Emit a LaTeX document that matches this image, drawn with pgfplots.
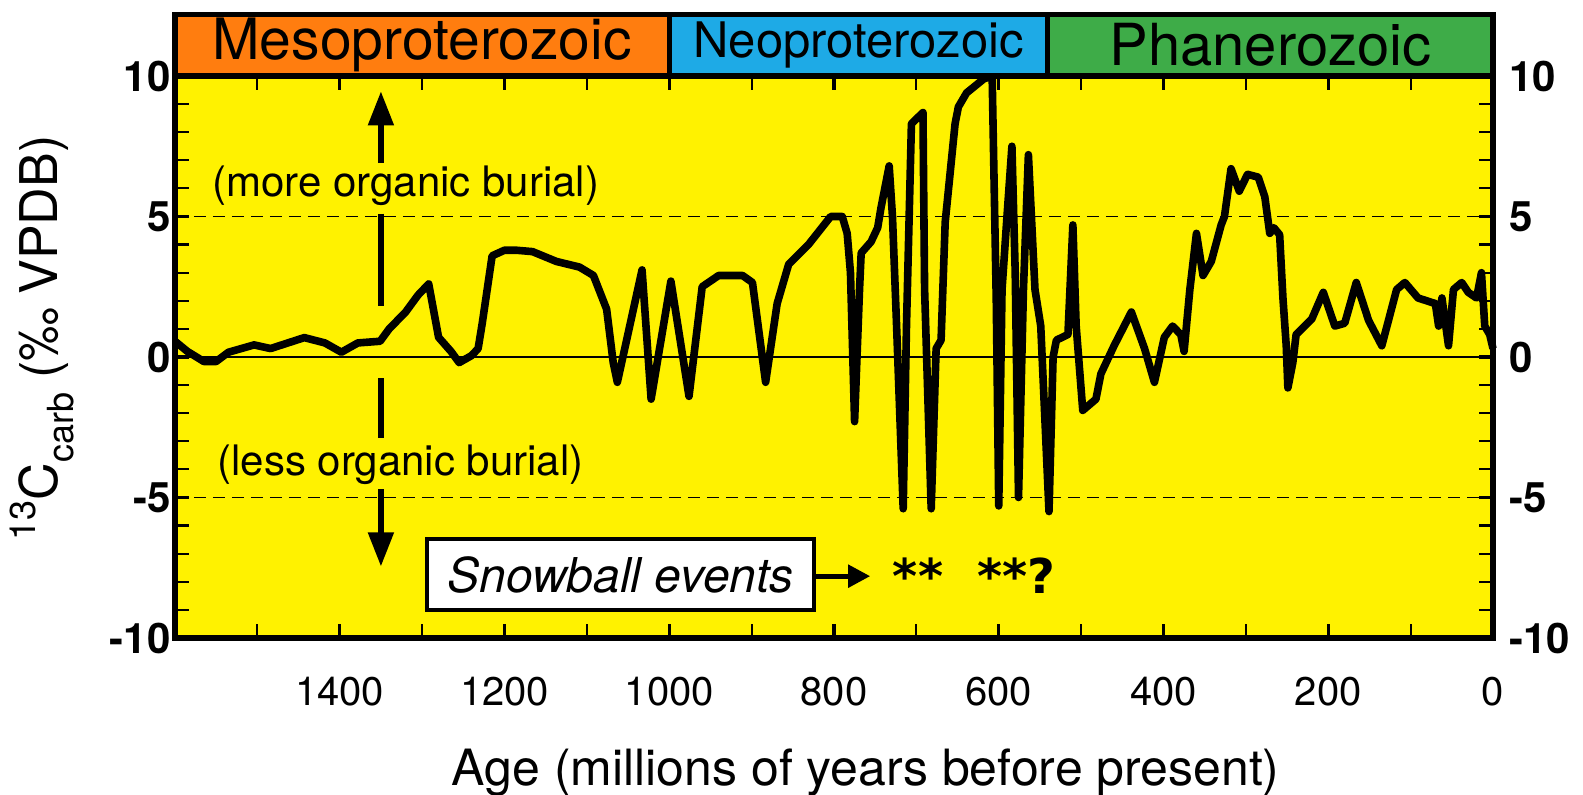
\documentclass[border=0pt]{standalone}
\usepackage{pgfplots}
\pgfplotsset{compat=1.18}
\usetikzlibrary{arrows.meta}
\usepackage{fontspec}
\setmainfont{TeX Gyre Heros}
\newfontfamily\djv{DejaVu Sans}
\definecolor{ayellow}{RGB}{255,242,0}
\definecolor{aorange}{RGB}{255,125,15}
\definecolor{ablue}{RGB}{30,170,230}
\definecolor{agreen}{RGB}{62,172,72}
\pgfplotsset{/pgf/number format/assume math mode=true,
  /pgf/number format/set thousands separator={}}
\begin{document}
\begin{tikzpicture}
\begin{axis}[
  scale only axis, width=659pt, height=281pt,
  x dir=reverse, xmin=0, xmax=1600, ymin=-10, ymax=10,
  axis background/.style={fill=ayellow},
  axis line style={line width=2.6pt},
  xtick={0,200,...,1400}, minor xtick={100,300,...,1500},
  ytick={-10,-5,0,5,10},
  minor ytick={-9,-8,-7,-6,-4,-3,-2,-1,1,2,3,4,6,7,8,9},
  tick align=inside, tick pos=both, xticklabel pos=lower, yticklabel pos=left,
  major tick length=7pt, minor tick length=7pt,
  major tick style={black, line width=1.6pt},
  minor tick style={black, line width=1.1pt},
  xticklabel style={font=\fontsize{20}{22}\selectfont, yshift=-16pt},
  yticklabel style={font=\fontsize{21}{23}\selectfont\bfseries, inner xsep=2pt},
  clip=false,
]
% reference lines
\draw[line width=0.8pt, dash pattern=on 6pt off 3.5pt] (axis cs:1600,5) -- (axis cs:0,5);
\draw[line width=0.8pt, dash pattern=on 6pt off 3.5pt] (axis cs:1600,-5) -- (axis cs:0,-5);
\draw[line width=0.8pt] (axis cs:1600,0) -- (axis cs:14,0);
% arrows and annotations
\draw[line width=2.6pt, -{Triangle[width=12.5pt,length=17pt]}] (axis cs:1350,6.9) -- (axis cs:1350,9.45);
\draw[line width=2.6pt] (axis cs:1350,5.1) -- (axis cs:1350,1.8);
\draw[line width=2.6pt] (axis cs:1350,-0.75) -- (axis cs:1350,-2.9);
\draw[line width=2.6pt, -{Triangle[width=12.5pt,length=17pt]}] (axis cs:1350,-4.7) -- (axis cs:1350,-7.45);
\node[anchor=west, inner sep=0pt, font=\fontsize{21}{23}\selectfont] at (axis cs:1555,6.1) {(more organic burial)};
\node[anchor=west, inner sep=0pt, font=\fontsize{21}{23}\selectfont] at (axis cs:1549,-3.85) {(less organic burial)};
\draw[line width=2pt, fill=white] (axis cs:1294,-6.47) rectangle (axis cs:824,-9.0);
\node[font=\fontsize{24}{26}\selectfont\itshape] at (axis cs:1059,-7.75) {Snowball events};
\draw[line width=2.5pt, -{Triangle[width=11pt,length=11pt]}] (axis cs:824,-7.8) -- (axis cs:756,-7.8);
\node[font=\djv\fontsize{24}{26}\selectfont\bfseries] at (axis cs:698,-7.8) {**};
\node[font=\djv\fontsize{24}{26}\selectfont\bfseries] at (axis cs:579,-7.8) {**?};
% data
\addplot[black, line width=3.8pt, line join=round] coordinates {
(1600,0.56) (1585,0.2) (1565,-0.16) (1550,-0.16) (1535,0.17) (1504,0.43)
(1484,0.3) (1443,0.69) (1418,0.5) (1398,0.17) (1378,0.5) (1351,0.56)
(1340,1.0) (1320,1.6) (1305,2.2) (1292,2.6) (1280,0.7) (1265,0.2)
(1255,-0.2) (1240,0.05) (1232,0.3) (1227,1.2) (1215,3.6) (1200,3.8)
(1186,3.8) (1166,3.75) (1137,3.4) (1109,3.2) (1092,2.9) (1076,1.7)
(1068,-0.2) (1063,-0.9) (1033,3.1) (1022,-1.5) (998,2.7) (976,-1.4)
(960,2.5) (940,2.9) (911,2.9) (899,2.65) (883,-0.9) (869,1.9)
(855,3.3) (831,4.0) (804,5.0) (790,5.0) (784,4.4) (780,3.0)
(775,-2.3) (769,2.4) (767,3.7) (755,4.1) (747,4.6) (743,5.3)
(733,6.8) (729,5.0) (724,1.1) (716,-5.4) (712,1.1) (706,8.3)
(692,8.7) (690,2.4) (682,-5.4) (676,0.3) (670,0.6) (665,4.8)
(653,8.3) (649,8.9) (639,9.4) (618,9.9) (608,10.0) (603,2.0)
(600,-5.3) (596,2.4) (590,5.0) (584,7.5) (580,3.0) (576,-5.0)
(570,2.4) (564,7.2) (556,2.4) (549,1.1) (539,-5.5) (534,0.0)
(530,0.6) (516,0.8) (510,4.7) (506,1.1) (498,-1.9) (482,-1.5)
(476,-0.6) (460,0.4) (439,1.6) (423,0.3) (411,-0.9) (399,0.7)
(389,1.1) (379,0.8) (375,0.2) (368,2.4) (360,4.4) (352,2.9)
(342,3.4) (330,4.7) (326,5.0) (318,6.7) (308,5.9) (298,6.5)
(285,6.4) (277,5.7) (271,4.4) (266,4.6) (259,4.35) (255,2.1)
(251,0.4) (249,-1.1) (243,-0.2) (239,0.8) (220,1.35) (206,2.3)
(192,1.1) (180,1.2) (166,2.65) (151,1.3) (135,0.4) (117,2.4)
(107,2.65) (91,2.1) (70,1.9) (66,1.1) (62,2.1) (54,0.4)
(48,2.4) (38,2.65) (30,2.3) (20,2.1) (14,3.0) (10,1.1)
(4,0.8) (0,0.3)
};
% era band
\filldraw[fill=aorange, draw=black, line width=2.6pt] (axis cs:1600,10) rectangle (axis cs:1000,12.2);
\filldraw[fill=ablue, draw=black, line width=2.6pt] (axis cs:1000,10) rectangle (axis cs:541,12.2);
\filldraw[fill=agreen, draw=black, line width=2.6pt] (axis cs:541,10) rectangle (axis cs:0,12.2);
\node[font=\fontsize{28.5}{30}\selectfont] at (axis cs:1300,11.1) {Mesoproterozoic};
\node[font=\fontsize{24.5}{26}\selectfont] at (axis cs:770,11.1) {Neoproterozoic};
\node[font=\fontsize{29}{31}\selectfont] at (axis cs:270,11.1) {Phanerozoic};
\end{axis}
\begin{axis}[
  scale only axis, width=659pt, height=281pt,
  xmin=0, xmax=1600, ymin=-10, ymax=10,
  hide x axis, axis y line*=right,
  y axis line style={draw=none}, ytick style={draw=none},
  ytick={-10,-5,0,5,10},
  yticklabel style={font=\fontsize{21}{23}\selectfont\bfseries, inner xsep=2pt, xshift=6pt},
  clip=false,
]
\node[rotate=90, anchor=center, font=\fontsize{26}{28}\selectfont] at (rel axis cs:-0.101,0.534)
  {\raisebox{0.42em}{\fontsize{18}{18}\selectfont 13}C\raisebox{-0.3em}{\fontsize{18}{18}\selectfont carb} (‰ VPDB)};
\node[anchor=base, font=\fontsize{25}{27}\selectfont] at (rel axis cs:0.524,-0.2616)
  {Age (millions of years before present)};
\end{axis}
\pgfresetboundingbox
\path[use as bounding box] ([xshift=-87.5pt,yshift=-78.5pt]current axis.south west) rectangle ([xshift=45pt,yshift=38pt]current axis.north east);
\end{tikzpicture}
\end{document}
